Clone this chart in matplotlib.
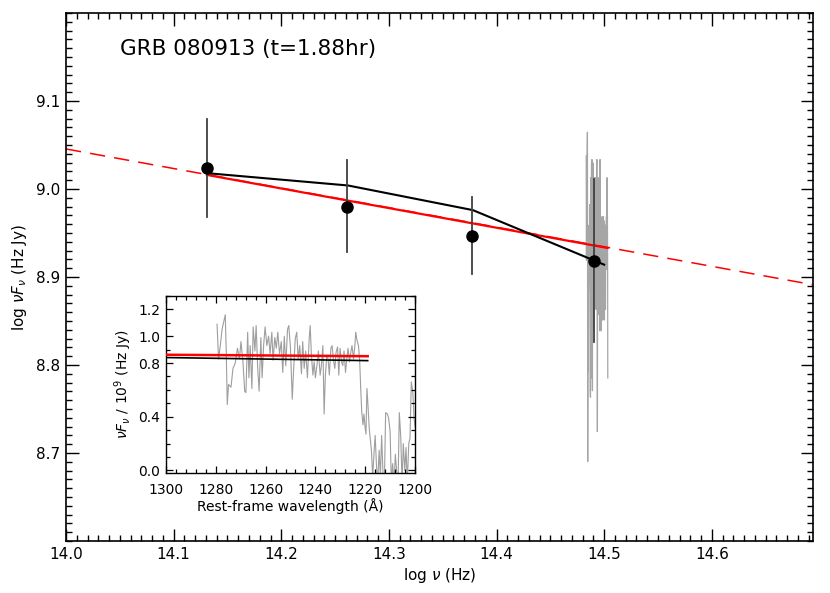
import numpy as np
import matplotlib
matplotlib.use("Agg")
import matplotlib.pyplot as plt
from matplotlib.ticker import MultipleLocator, FixedLocator

# ---------------- data ----------------
title_text = "GRB 080913 (t=1.88hr)"
redshift = 6.7
c_ang = 2.998e18  # speed of light in Angstrom/s

# photometric points (log nu, log nuFnu) and error bar ends
phot_lognu = [14.131, 14.261, 14.377, 14.491]
phot_logf = [9.024, 8.980, 8.947, 8.918]
phot_lo = [8.968, 8.928, 8.903, 8.826]
phot_hi = [9.079, 9.033, 8.991, 9.011]

# black model curve
black_x = [14.131, 14.262, 14.378, 14.500]
black_y = [9.018, 9.004, 8.976, 8.914]

# red power-law: dashed full extent and solid fitted range
red_dash_x = [14.0, 14.695]
red_dash_y = [9.0455, 8.891]
red_solid_x = [14.131, 14.503]
red_solid_y = [9.016, 8.933]

# spectrum (rest-frame wavelength in A, nuFnu / 1e9 Hz Jy)
spec_wl = [1279.5, 1278.9, 1278.2, 1277.5, 1276.9, 1276.2, 1275.8, 1275.4, 1274.9, 1273.9,
           1273.1, 1272.2, 1271.3, 1270.5, 1269.9, 1269.1, 1268.4, 1267.9, 1267.2, 1266.7,
           1266.2, 1265.5, 1265.0, 1264.3, 1263.8, 1263.2, 1262.6, 1261.9, 1261.4, 1260.8,
           1260.2, 1259.5, 1258.8, 1258.2, 1257.5, 1257.0, 1256.3, 1255.7, 1255.1, 1254.4,
           1253.7, 1253.1, 1252.5, 1251.9, 1251.2, 1250.7, 1250.0, 1249.3, 1248.8, 1248.1,
           1247.5, 1246.9, 1246.3, 1245.6, 1245.1, 1244.5, 1243.9, 1243.2, 1242.5, 1242.1,
           1241.6, 1241.0, 1240.5, 1240.0, 1239.4, 1238.8, 1238.1, 1237.6, 1237.0, 1236.5,
           1236.0, 1235.4, 1234.9, 1234.4, 1233.8, 1233.3, 1232.8, 1232.2, 1231.7, 1231.1,
           1230.6, 1230.1, 1229.5, 1229.0, 1228.5, 1227.9, 1227.4, 1226.9, 1226.3, 1225.8,
           1225.3, 1224.7, 1224.2, 1223.8, 1223.3, 1222.7, 1222.2, 1221.8, 1221.4, 1220.9,
           1220.5, 1220.1, 1219.7, 1219.3, 1218.9, 1218.4, 1218.0, 1217.5, 1217.0, 1216.4,
           1216.0, 1215.5, 1215.0, 1214.4, 1213.9, 1213.4, 1212.8, 1212.3, 1211.8, 1211.1,
           1210.6, 1210.0, 1209.5, 1209.0, 1208.4, 1207.9, 1207.4, 1206.8, 1206.3, 1205.7,
           1205.2, 1204.7, 1204.1, 1203.6, 1203.1, 1202.5, 1202.0, 1201.5, 1200.9, 1200.4,
           1199.9]
spec_f = [1.09, 0.83, 0.93, 1.05, 1.10, 1.16, 0.88, 0.49, 0.64, 0.62,
          0.76, 0.80, 0.91, 0.83, 0.96, 0.81, 0.59, 0.58, 1.03, 0.69,
          0.93, 0.61, 1.07, 0.89, 1.08, 0.77, 0.59, 0.99, 0.69, 0.93,
          1.07, 0.93, 1.00, 0.87, 1.03, 0.82, 0.99, 0.91, 1.03, 0.87,
          0.96, 0.73, 1.00, 0.78, 1.05, 1.08, 0.91, 0.53, 0.73, 0.98,
          1.03, 0.83, 0.93, 0.72, 0.96, 0.76, 0.89, 0.69, 0.98, 1.08,
          0.86, 0.71, 0.81, 0.69, 0.78, 0.89, 0.71, 0.78, 0.93, 0.42,
          0.71, 0.86, 0.83, 0.71, 0.91, 0.93, 0.83, 0.76, 0.88, 0.92,
          0.71, 0.91, 0.81, 0.78, 0.89, 0.73, 0.83, 0.91, 0.81, 0.88,
          0.93, 0.83, 0.92, 1.03, 0.97, 0.93, 0.81, 0.61, 0.44, 0.34,
          0.42, 0.33, 0.27, 0.61, 0.49, 0.32, 0.24, 0.15, -0.05, 0.15,
          0.26, 0.05, -0.10, 0.15, -0.05, 0.26, -0.05, -0.10, 0.43, 0.42,
          0.39, 0.29, -0.10, 0.05, -0.10, 0.12, 0.00, -0.10, 0.43, 0.24,
          -0.10, 0.20, 0.00, 0.17, -0.10, 0.20, 0.24, 0.66, 0.59, 0.39,
          0.32]
main_spec_min_wl = 1221.8
main_spec_min_f = 0.48

# inset model lines
inset_red_wl = [1300, 1219]
inset_red_f = [0.862, 0.851]
inset_black_wl = [1300, 1219]
inset_black_f = [0.841, 0.818]

# ticks
main_xticks = [14.0, 14.1, 14.2, 14.3, 14.4, 14.5, 14.6]
main_yticks = [8.7, 8.8, 8.9, 9.0, 9.1]
inset_xticks = [1300, 1280, 1260, 1240, 1220, 1200]
inset_yticks = [0.0, 0.4, 0.8, 1.0, 1.2]

# ---------------- figure ----------------
plt.rcParams["font.family"] = ["DejaVu Sans"]
fig = plt.figure(figsize=(8.30, 5.93), dpi=100)
ax = fig.add_axes([66 / 830, 1 - 541 / 593, (813 - 66) / 830, (541 - 13) / 593])

wl = np.array(spec_wl)
fl = np.array(spec_f)
sel = (wl >= main_spec_min_wl) & (fl >= main_spec_min_f)
lognu_spec = np.log10(c_ang / (wl[sel] * (1 + redshift)))
logf_spec = np.log10(fl[sel] * 1e9)
ax.plot(lognu_spec, logf_spec, color="0.65", lw=0.9, zorder=1)

ax.plot(red_dash_x, red_dash_y, color="red", lw=1.1, ls=(0, (10, 6)), zorder=2)
ax.plot(red_solid_x, red_solid_y, color="red", lw=1.6, zorder=3)
ax.plot(black_x, black_y, color="black", lw=1.5, zorder=4)
for x, lo, hi in zip(phot_lognu, phot_lo, phot_hi):
    ax.plot([x, x], [lo, hi], color="0.25", lw=1.3, zorder=4)
ax.plot(phot_lognu, phot_logf, "o", color="black", ms=8, zorder=5)

ax.set_xlim(14.0, 14.694)
ax.set_ylim(8.6, 9.2)
ax.xaxis.set_major_locator(FixedLocator(main_xticks))
ax.xaxis.set_minor_locator(MultipleLocator(0.01))
ax.yaxis.set_major_locator(FixedLocator(main_yticks))
ax.yaxis.set_minor_locator(MultipleLocator(0.01))
ax.set_xticklabels([f"{t:.1f}" for t in main_xticks])
ax.set_yticklabels([f"{t:.1f}" for t in main_yticks])
ax.tick_params(which="both", direction="in", top=True, right=True, labelsize=11, width=1.0)
ax.tick_params(which="major", length=9, pad=4)
ax.tick_params(which="minor", length=4.5)
for s in ax.spines.values():
    s.set_linewidth(1.2)
ax.set_xlabel(r"log $\nu$ (Hz)", fontsize=11, labelpad=3)
ax.set_ylabel(r"log $\nu F_\nu$ (Hz Jy)", fontsize=11, labelpad=5)
ax.text(14.05, 9.159, title_text, fontsize=15.5, va="center", ha="left")

# ---------------- inset ----------------
ins = fig.add_axes([166 / 830, 1 - 473 / 593, (415 - 166) / 830, (473 - 296) / 593])
ins.plot(spec_wl, spec_f, color="0.62", lw=0.8, zorder=1)
ins.plot(inset_black_wl, inset_black_f, color="black", lw=1.2, zorder=2)
ins.plot(inset_red_wl, inset_red_f, color="red", lw=1.8, zorder=3)
ins.set_xlim(1300, 1200)
ins.set_ylim(-0.02, 1.3)
ins.xaxis.set_major_locator(FixedLocator(inset_xticks))
ins.xaxis.set_minor_locator(MultipleLocator(4))
ins.yaxis.set_major_locator(FixedLocator(inset_yticks))
ins.yaxis.set_minor_locator(MultipleLocator(0.1))
ins.set_yticklabels([f"{t:.1f}" for t in inset_yticks])
ins.tick_params(which="both", direction="in", top=True, right=True, labelsize=10, width=0.9)
ins.tick_params(axis="y", which="major", length=5, pad=4)
ins.tick_params(axis="x", which="major", length=5, pad=7)
ins.tick_params(which="minor", length=3)
for s in ins.spines.values():
    s.set_linewidth(1.0)
ins.set_xlabel("Rest-frame wavelength (\u00c5)", fontsize=10, labelpad=1)
ins.set_ylabel(r"$\nu F_\nu$ / 10$^9$ (Hz Jy)", fontsize=10, labelpad=3)

fig.savefig("out.png", dpi=100)
